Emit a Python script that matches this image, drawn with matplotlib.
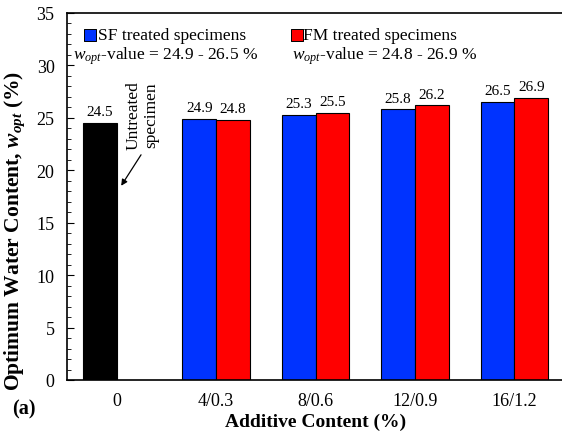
import matplotlib
matplotlib.use("Agg")
import matplotlib.pyplot as plt
from matplotlib.ticker import MultipleLocator
import numpy as np

plt.rcParams['font.family'] = ['Liberation Serif', 'DejaVu Serif']
plt.rcParams['mathtext.fontset'] = 'custom'
plt.rcParams['mathtext.rm'] = 'Liberation Serif'
plt.rcParams['mathtext.it'] = 'Liberation Serif:italic'
plt.rcParams['mathtext.bf'] = 'Liberation Serif:bold'
plt.rcParams['mathtext.bfit'] = 'Liberation Serif:italic:bold'

# Data
categories = ['0', '4/0.3', '8/0.6', '12/0.9', '16/1.2']
untreated = 24.5
sf_values = [24.9, 25.3, 25.8, 26.5]
fm_values = [24.8, 25.5, 26.2, 26.9]
sf_range = '24.9 - 26.5 %'
fm_range = '24.8 - 26.9 %'

blue = '#0033FF'
red = '#FF0000'

fig = plt.figure(figsize=(5.62, 4.35), dpi=100)
ax = fig.add_axes([67/562, 54/435, 497/562, 367/435])

w = 0.34
x = np.arange(len(categories))
val_fs = 11

# untreated bar in the first category
ax.bar(x[0] - w/2, untreated, width=w, color='black', edgecolor='black', linewidth=0.8)
ax.text(x[0] - w/2, untreated + 0.45, f'{untreated}', ha='center', va='bottom', fontsize=val_fs)

xt = x[1:]
ax.bar(xt - w/2, sf_values, width=w, color=blue, edgecolor='black', linewidth=0.8)
ax.bar(xt + w/2, fm_values, width=w, color=red, edgecolor='black', linewidth=0.8)
for xi, v in zip(xt, sf_values):
    ax.text(xi - w/2, v + 0.45, f'{v}', ha='center', va='bottom', fontsize=val_fs)
for xi, v in zip(xt, fm_values):
    ax.text(xi + w/2, v + 0.45, f'{v}', ha='center', va='bottom', fontsize=val_fs)

ax.set_xlim(-0.5, 4.5)
ax.set_ylim(0, 35)
ax.set_xticks(x)
ax.set_xticklabels(categories, fontsize=13)
ax.tick_params(axis='x', length=0, pad=9)
ax.yaxis.set_major_locator(MultipleLocator(5))
ax.yaxis.set_minor_locator(MultipleLocator(1))
ax.tick_params(axis='y', which='major', direction='in', length=5, width=0.8, labelsize=13, pad=9)
ax.tick_params(axis='y', which='minor', direction='in', length=3, width=0.6)
for s in ax.spines.values():
    s.set_linewidth(1.2)

ax.set_ylabel(r'Optimum Water Content, $\mathbfit{w}_{\mathbfit{opt}}$ (%)',
              fontsize=15.5, fontweight='bold')
ax.yaxis.set_label_coords(-40/497, (381 - 231)/367)
ax.set_xlabel('Additive Content (%)', fontsize=14, fontweight='bold', labelpad=2.5)

# legend-style annotations
leg_fs = 12.5
ax.scatter([-0.5 + 22.5/99.4], [32.9], marker='s', s=70, color=blue,
           edgecolor='black', linewidth=0.7, clip_on=False)
ax.text(-0.5 + 31/99.4, 32.9, 'SF treated specimens', fontsize=leg_fs, va='center', ha='left')
ax.text(-0.5 + 6/99.4, 31.0, r'$w_{opt}$-value = ' + sf_range, fontsize=leg_fs, va='center', ha='left')

ax.scatter([-0.5 + 230/99.4], [32.9], marker='s', s=70, color=red,
           edgecolor='black', linewidth=0.7, clip_on=False)
ax.text(-0.5 + 236/99.4, 32.9, 'FM treated specimens', fontsize=leg_fs, va='center', ha='left')
ax.text(-0.5 + 225/99.4, 31.0, r'$w_{opt}$-value = ' + fm_range, fontsize=leg_fs, va='center', ha='left')

# untreated label with arrow
ax.text(0.26, 28.6, 'Untreated\nspecimen', rotation=90, fontsize=12.5,
        ha='center', va='top', linespacing=1.15)
ax.annotate('', xy=(0.03, 18.3), xytext=(0.26, 21.7),
            arrowprops=dict(arrowstyle='-|>', color='black', lw=0.9, mutation_scale=9))

fig.text(12/562, 1 - 409/435, '(a)', fontsize=14.5, fontweight='bold', va='center', ha='left')

fig.savefig('out.png', dpi=100)
